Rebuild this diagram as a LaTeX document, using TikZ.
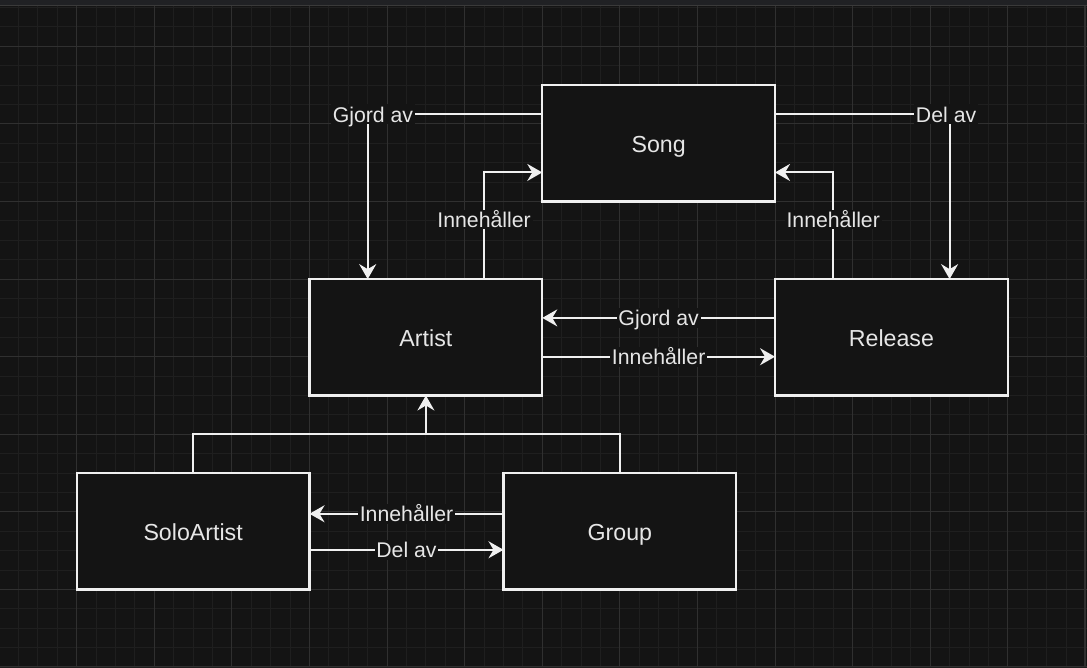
\documentclass[tikz,border=0pt]{standalone}
\usepackage{fontspec}
\setmainfont{Liberation Sans}
\usetikzlibrary{arrows.meta, positioning, calc}
\definecolor{canvasBg}{HTML}{141414}
\definecolor{barGray}{HTML}{202124}
\definecolor{edgeGray}{HTML}{3A3A3A}
\definecolor{gridMinor}{HTML}{1F1F1F}
\definecolor{gridMajor}{HTML}{303030}
\definecolor{strokeWhite}{HTML}{F0F0F0}
\definecolor{labelWhite}{HTML}{E6E6E6}

\begin{document}
\begin{tikzpicture}[
    x=0.02cm, y=-0.02cm,
    node distance=1.552cm and 0cm,
    entity/.style={rectangle, draw=strokeWhite, line width=1.2pt, outer sep=0pt, fill=canvasBg, minimum width=4.656cm, minimum height=2.328cm, text=labelWhite, text height=1.06em, text depth=0pt, font=\fontsize{13.2}{16}\selectfont},
    tag/.style={fill=canvasBg, inner sep=1pt, text=labelWhite, text height=0.92em, text depth=0pt, font=\fontsize{12.1}{14}\selectfont},
    link/.style={line width=1.1pt, strokeWhite},
    arrow/.style={link, -{Stealth[length=0.3cm, width=0.34cm, inset=0.1cm]}},
    gridminor/.style={gridMinor, line width=0.5pt},
    gridmajor/.style={gridMajor, line width=0.6pt}
]
    % Canvas
    \useasboundingbox (0,0) rectangle (1087,667);
    \fill[canvasBg] (0,0) rectangle (1087,667);
    \foreach \k in {0,...,56}
        \draw[gridminor] ({-0.9+19.4*\k},5.3) -- ({-0.9+19.4*\k},667);
    \foreach \k in {0,...,34}
        \draw[gridminor] (0,{7.5+19.4*\k}) -- (1087,{7.5+19.4*\k});
    \foreach \k in {1,...,13}
        \draw[gridmajor] ({-0.9+77.6*\k},5.3) -- ({-0.9+77.6*\k},667);
    \foreach \k in {0,...,7}
        \draw[gridmajor] (0,{46.3+77.6*\k}) -- (1087,{46.3+77.6*\k});
    \draw[gridmajor] (1085,5.3) -- (1085,667);
    \draw[gridmajor] (0,666.3) -- (1087,666.3);
    \fill[barGray] (0,0) rectangle (1087,5.3);
    \draw[edgeGray, line width=0.6pt] (0,5.3) -- (1087,5.3);

    % Nodes
    \node[entity] (artist) at (425.9,337.3) {Artist};
    \node[entity, above right=of artist] (song) {Song};
    \node[entity, below right=of song] (release) {Release};
    \node[entity, below left=of artist] (solo) {SoloArtist};
    \node[entity, right=3.88cm of solo] (group) {Group};
    \coordinate[below=0.776cm of artist.south] (join);

    % Links
    \draw[arrow] ($(song.north west)!.25!(song.south west)$) -| node[tag, pos=.485] {Gjord av} ($(artist.north west)!.25!(artist.north east)$);
    \draw[arrow] ($(artist.north west)!.75!(artist.north east)$) |- node[tag, pos=.28] {Innehåller} ($(song.north west)!.75!(song.south west)$);
    \draw[arrow] ($(song.north east)!.25!(song.south east)$) -| node[tag, pos=.49] {Del av} ($(release.north west)!.75!(release.north east)$);
    \draw[arrow] ($(release.north west)!.25!(release.north east)$) |- node[tag, pos=.28] {Innehåller} ($(song.north east)!.75!(song.south east)$);
    \draw[arrow] ([yshift=0.388cm]release.west) -- node[tag] {Gjord av} ([yshift=0.388cm]artist.east);
    \draw[arrow] ([yshift=-0.388cm]artist.east) -- node[tag] {Innehåller} ([yshift=-0.388cm]release.west);

    \draw[link] (solo.north) |- (join);
    \draw[link] (group.north) |- (join);
    \draw[arrow] (join) -- (artist.south);
    \draw[arrow] ([yshift=0.35cm]group.west) -- node[tag] {Innehåller} ([yshift=0.35cm]solo.east);
    \draw[arrow] ([yshift=-0.37cm]solo.east) -- node[tag] {Del av} ([yshift=-0.37cm]group.west);
\end{tikzpicture}
\end{document}
